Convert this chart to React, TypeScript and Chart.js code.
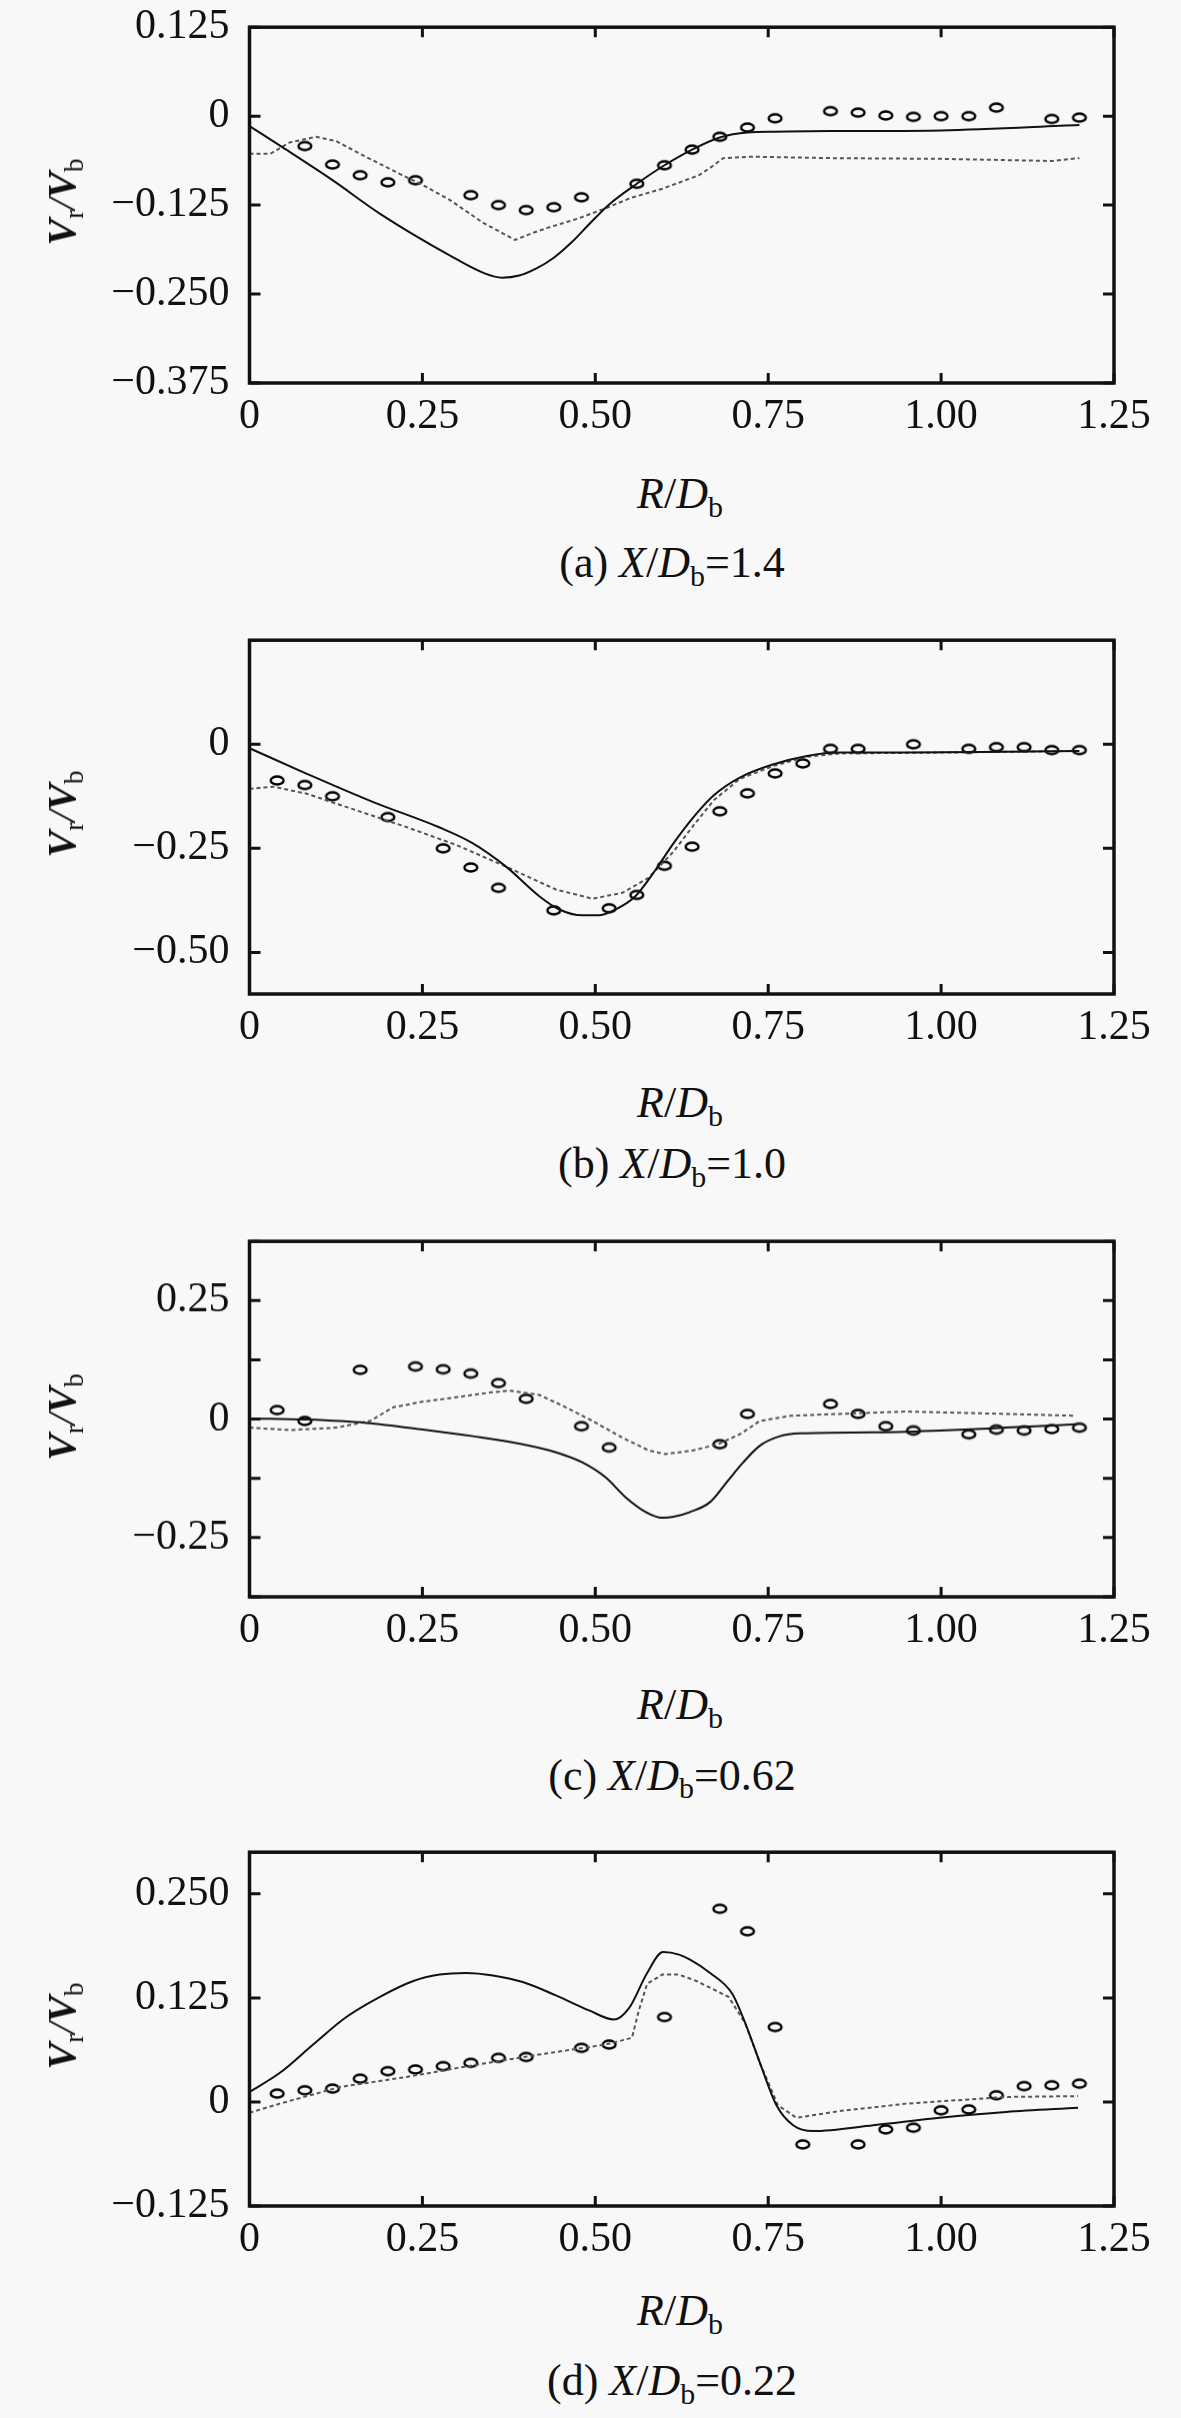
import React, { useEffect, useRef } from 'react';
import { Chart, registerables } from 'chart.js';

Chart.register(...registerables);

// R/D_b axis, shared by all four panels
const xTicks = [0, 0.25, 0.5, 0.75, 1.0, 1.25];
const xTickLabels = ['0', '0.25', '0.50', '0.75', '1.00', '1.25'];

// (a) X/D_b = 1.4
const expAx = [0.08, 0.12, 0.16, 0.2, 0.24, 0.32, 0.36, 0.4, 0.44, 0.48, 0.56, 0.6, 0.64, 0.68, 0.72, 0.76, 0.84, 0.88, 0.92, 0.96, 1.0, 1.04, 1.08, 1.16, 1.2];
const expAy = [-0.042, -0.068, -0.083, -0.093, -0.09, -0.111, -0.125, -0.132, -0.128, -0.114, -0.095, -0.069, -0.047, -0.029, -0.016, -0.003, 0.007, 0.005, 0.001, -0.001, 0.0, 0.0, 0.012, -0.004, -0.002];
const solidAx = [0, 0.048, 0.12, 0.19, 0.29, 0.34, 0.365, 0.39, 0.415, 0.44, 0.465, 0.49, 0.52, 0.56, 0.6, 0.64, 0.68, 0.72, 0.76, 0.84, 1.0, 1.2];
const solidAy = [-0.014, -0.044, -0.09, -0.138, -0.196, -0.221, -0.227, -0.224, -0.214, -0.199, -0.178, -0.153, -0.124, -0.095, -0.069, -0.047, -0.03, -0.023, -0.022, -0.021, -0.02, -0.0125];
const dotAx = [0, 0.03, 0.058, 0.096, 0.125, 0.17, 0.217, 0.251, 0.29, 0.338, 0.384, 0.41, 0.434, 0.475, 0.516, 0.551, 0.597, 0.65, 0.667, 0.685, 0.725, 0.84, 1.0, 1.16, 1.2];
const dotAy = [-0.053, -0.053, -0.037, -0.029, -0.035, -0.058, -0.081, -0.097, -0.118, -0.15, -0.174, -0.164, -0.156, -0.144, -0.129, -0.115, -0.102, -0.083, -0.072, -0.059, -0.057, -0.059, -0.06, -0.063, -0.059];
const yTicksA = [-0.375, -0.25, -0.125, 0, 0.125];
const yLabelsA = ['\u22120.375', '\u22120.250', '\u22120.125', '0', '0.125'];

// (b) X/D_b = 1.0
const expBx = [0.04, 0.08, 0.12, 0.2, 0.28, 0.32, 0.36, 0.44, 0.52, 0.56, 0.6, 0.64, 0.68, 0.72, 0.76, 0.8, 0.84, 0.88, 0.96, 1.04, 1.08, 1.12, 1.16, 1.2];
const expBy = [-0.087, -0.098, -0.125, -0.175, -0.25, -0.296, -0.345, -0.399, -0.394, -0.362, -0.292, -0.246, -0.161, -0.118, -0.07, -0.046, -0.011, -0.011, 0.0, -0.011, -0.007, -0.007, -0.014, -0.014];
const solidBx = [0, 0.083, 0.179, 0.275, 0.323, 0.371, 0.419, 0.448, 0.481, 0.505, 0.529, 0.558, 0.587, 0.613, 0.642, 0.671, 0.709, 0.758, 0.806, 0.854, 0.95, 1.094, 1.2];
const solidBy = [-0.0095, -0.071, -0.139, -0.2, -0.238, -0.294, -0.365, -0.397, -0.411, -0.411, -0.397, -0.365, -0.302, -0.238, -0.175, -0.123, -0.08, -0.048, -0.028, -0.02, -0.02, -0.018, -0.016];
const dotBx = [0, 0.035, 0.083, 0.155, 0.227, 0.299, 0.371, 0.443, 0.496, 0.539, 0.577, 0.613, 0.642, 0.671, 0.709, 0.758, 0.806, 0.854, 1.0, 1.2];
const dotBy = [-0.107, -0.102, -0.119, -0.159, -0.199, -0.242, -0.294, -0.349, -0.371, -0.357, -0.321, -0.258, -0.195, -0.135, -0.083, -0.052, -0.03, -0.022, -0.02, -0.016];
const yTicksB = [-0.5, -0.25, 0];
const yLabelsB = ['\u22120.50', '\u22120.25', '0'];

// (c) X/D_b = 0.62
const expCx = [0.04, 0.08, 0.16, 0.24, 0.28, 0.32, 0.36, 0.4, 0.48, 0.52, 0.68, 0.72, 0.84, 0.88, 0.92, 0.96, 1.04, 1.08, 1.12, 1.16, 1.2];
const expCy = [0.019, -0.004, 0.104, 0.111, 0.105, 0.096, 0.076, 0.043, -0.015, -0.06, -0.053, 0.011, 0.032, 0.011, -0.015, -0.024, -0.032, -0.022, -0.024, -0.021, -0.018];
const solidCx = [0, 0.083, 0.169, 0.251, 0.323, 0.395, 0.443, 0.481, 0.515, 0.544, 0.573, 0.597, 0.613, 0.637, 0.666, 0.69, 0.714, 0.738, 0.767, 0.796, 0.9, 0.998, 1.094, 1.195];
const solidCy = [0.0015, -0.001, -0.008, -0.022, -0.036, -0.053, -0.07, -0.091, -0.123, -0.165, -0.196, -0.208, -0.206, -0.196, -0.175, -0.133, -0.091, -0.056, -0.036, -0.03, -0.028, -0.024, -0.018, -0.011];
const dotCx = [0, 0.059, 0.126, 0.174, 0.208, 0.251, 0.299, 0.347, 0.376, 0.419, 0.453, 0.496, 0.539, 0.577, 0.601, 0.642, 0.677, 0.709, 0.738, 0.782, 0.854, 0.949, 1.094, 1.195];
const dotCy = [-0.018, -0.023, -0.018, -0.004, 0.025, 0.037, 0.046, 0.056, 0.06, 0.051, 0.028, -0.004, -0.039, -0.066, -0.074, -0.066, -0.053, -0.032, -0.004, 0.007, 0.011, 0.016, 0.011, 0.007];
const yTicksC = [-0.375, -0.25, -0.125, 0, 0.125, 0.25, 0.375];
const yLabelsC = ['', '\u22120.25', '', '0', '', '0.25', ''];

// (d) X/D_b = 0.22
const expDx = [0.04, 0.08, 0.12, 0.16, 0.2, 0.24, 0.28, 0.32, 0.36, 0.4, 0.48, 0.52, 0.6, 0.68, 0.72, 0.76, 0.8, 0.88, 0.92, 0.96, 1.0, 1.04, 1.08, 1.12, 1.16, 1.2];
const expDy = [0.01, 0.014, 0.016, 0.028, 0.037, 0.039, 0.043, 0.047, 0.053, 0.054, 0.065, 0.069, 0.102, 0.232, 0.205, 0.09, -0.051, -0.051, -0.033, -0.031, -0.01, -0.009, 0.008, 0.019, 0.02, 0.022];
const solidDx = [0, 0.044, 0.092, 0.14, 0.188, 0.236, 0.275, 0.313, 0.352, 0.395, 0.443, 0.491, 0.527, 0.549, 0.575, 0.598, 0.621, 0.637, 0.666, 0.698, 0.719, 0.738, 0.762, 0.786, 0.815, 0.902, 0.998, 1.094, 1.198];
const solidDy = [0.012, 0.035, 0.069, 0.102, 0.126, 0.145, 0.153, 0.155, 0.152, 0.144, 0.128, 0.11, 0.099, 0.113, 0.155, 0.18, 0.177, 0.171, 0.155, 0.13, 0.09, 0.047, -0.004, -0.028, -0.035, -0.028, -0.019, -0.012, -0.007];
const dotDx = [0, 0.044, 0.131, 0.227, 0.323, 0.419, 0.515, 0.553, 0.563, 0.575, 0.597, 0.621, 0.647, 0.693, 0.717, 0.738, 0.764, 0.791, 0.853, 0.95, 1.094, 1.198];
const dotDy = [-0.013, -0.002, 0.018, 0.03, 0.044, 0.057, 0.069, 0.077, 0.11, 0.142, 0.153, 0.153, 0.145, 0.126, 0.094, 0.047, -0.004, -0.019, -0.011, -0.002, 0.006, 0.007];
const yTicksD = [-0.125, 0, 0.125, 0.25];
const yLabelsD = ['\u22120.125', '0', '0.125', '0.250'];

const SERIF = '"Liberation Serif", "Times New Roman", serif';
const INK = '#111';
const PAGE_W = 1181;
const PLOT_LEFT = 249.5;
const PLOT_RIGHT = 1114;
const PAD_TOP = 40;
const X_AXIS_H = 60;

interface PanelDef {
  tag: string;
  station: string;
  yMin: number;
  yMax: number;
  yTicks: number[];
  yLabels: string[];
  expX: number[];
  expY: number[];
  solidX: number[];
  solidY: number[];
  dotX: number[];
  dotY: number[];
  // page layout
  plotTop: number;
  plotH: number;
  titleY: number;
  captionY: number;
}

const panels: PanelDef[] = [
  { tag: '(a)', station: '1.4', yMin: -0.375, yMax: 0.125, yTicks: yTicksA, yLabels: yLabelsA, expX: expAx, expY: expAy, solidX: solidAx, solidY: solidAy, dotX: dotAx, dotY: dotAy, plotTop: 21.5, plotH: 361.2, titleY: 494, captionY: 562.6 },
  { tag: '(b)', station: '1.0', yMin: -0.6, yMax: 0.25, yTicks: yTicksB, yLabels: yLabelsB, expX: expBx, expY: expBy, solidX: solidBx, solidY: solidBy, dotX: dotBx, dotY: dotBy, plotTop: 634.7, plotH: 359.3, titleY: 1102.8, captionY: 1164 },
  { tag: '(c)', station: '0.62', yMin: -0.375, yMax: 0.375, yTicks: yTicksC, yLabels: yLabelsC, expX: expCx, expY: expCy, solidX: solidCx, solidY: solidCy, dotX: dotCx, dotY: dotCy, plotTop: 1236.3, plotH: 360.4, titleY: 1704.7, captionY: 1775.5 },
  { tag: '(d)', station: '0.22', yMin: -0.125, yMax: 0.3, yTicks: yTicksD, yLabels: yLabelsD, expX: expDx, expY: expDy, solidX: solidDx, solidY: solidDy, dotX: dotDx, dotY: dotDy, plotTop: 1846.5, plotH: 359.5, titleY: 2310.6, captionY: 2380.7 },
];

const toPoints = (xs: number[], ys: number[]) => xs.map((x, i) => ({ x, y: ys[i] }));

// open ellipse marker, the scanned circles are squashed vertically
let markerCache: HTMLCanvasElement | null = null;
function ellipseMarker(): HTMLCanvasElement {
  if (markerCache) return markerCache;
  const c = document.createElement('canvas');
  c.width = 18;
  c.height = 13;
  const g = c.getContext('2d');
  if (g) {
    g.strokeStyle = '#000';
    g.lineWidth = 2.4;
    g.beginPath();
    g.ellipse(9, 6.5, 6.4, 4.0, 0, 0, Math.PI * 2);
    g.stroke();
  }
  markerCache = c;
  return c;
}

// closed frame with inward ticks on all four sides
const frameTicks = {
  id: 'frameTicks',
  afterDraw(chart: any) {
    const { ctx, chartArea } = chart;
    const { left, right, top, bottom } = chartArea;
    const xs = chart.scales.x;
    const ys = chart.scales.y;
    ctx.save();
    ctx.strokeStyle = INK;
    ctx.lineWidth = 3.5;
    ctx.strokeRect(left, top, right - left, bottom - top);
    ctx.lineWidth = 3;
    ctx.beginPath();
    xs.ticks.forEach((t: any) => {
      const px = xs.getPixelForValue(t.value);
      ctx.moveTo(px, bottom);
      ctx.lineTo(px, bottom - 10);
      ctx.moveTo(px, top);
      ctx.lineTo(px, top + 10);
    });
    ys.ticks.forEach((t: any) => {
      const py = ys.getPixelForValue(t.value);
      ctx.moveTo(left, py);
      ctx.lineTo(left + 11, py);
      ctx.moveTo(right, py);
      ctx.lineTo(right - 11, py);
    });
    ctx.stroke();
    ctx.restore();
  },
};

const Sub: React.FC<{ children: React.ReactNode }> = ({ children }) => (
  <span style={{ fontSize: '0.68em', position: 'relative', top: '0.3em', fontStyle: 'normal', fontWeight: 'normal' }}>
    {children}
  </span>
);

const textBase: React.CSSProperties = {
  position: 'absolute',
  whiteSpace: 'nowrap',
  color: INK,
  fontFamily: SERIF,
  lineHeight: 1,
};

const Panel: React.FC<{ p: PanelDef }> = ({ p }) => {
  const canvasRef = useRef<HTMLCanvasElement | null>(null);
  const canvasH = PAD_TOP + p.plotH + X_AXIS_H;

  useEffect(() => {
    if (!canvasRef.current) return;
    const ctx = canvasRef.current.getContext('2d');
    if (!ctx) return;

    const chart = new Chart(ctx, {
      type: 'scatter',
      data: {
        datasets: [
          {
            label: 'solid',
            data: toPoints(p.solidX, p.solidY),
            showLine: true,
            borderColor: INK,
            borderWidth: 2,
            pointRadius: 0,
            cubicInterpolationMode: 'monotone',
          },
          {
            label: 'dotted',
            data: toPoints(p.dotX, p.dotY),
            showLine: true,
            borderColor: '#555',
            borderWidth: 2,
            borderDash: [4, 3],
            pointRadius: 0,
          },
          {
            label: 'experiment',
            data: toPoints(p.expX, p.expY),
            showLine: false,
            pointStyle: ellipseMarker(),
            pointRadius: 6,
            pointHoverRadius: 6,
          },
        ],
      },
      options: {
        responsive: false,
        animation: false,
        events: [],
        layout: { padding: { top: PAD_TOP, right: PAGE_W - PLOT_RIGHT, bottom: 0, left: 0 } },
        plugins: { legend: { display: false }, tooltip: { enabled: false } },
        scales: {
          x: {
            type: 'linear',
            min: 0,
            max: 1.25,
            grid: { display: false, drawTicks: false },
            border: { display: false },
            afterBuildTicks: (scale: any) => {
              scale.ticks = xTicks.map(v => ({ value: v }));
            },
            afterFit: (scale: any) => {
              scale.height = X_AXIS_H;
            },
            ticks: {
              autoSkip: false,
              maxRotation: 0,
              padding: 9,
              color: INK,
              font: { family: SERIF, size: 42 },
              callback: (_v: any, i: number) => xTickLabels[i],
            },
          },
          y: {
            type: 'linear',
            min: p.yMin,
            max: p.yMax,
            grid: { display: false, drawTicks: false },
            border: { display: false },
            afterBuildTicks: (scale: any) => {
              scale.ticks = p.yTicks.map(v => ({ value: v }));
            },
            afterFit: (scale: any) => {
              scale.width = PLOT_LEFT;
            },
            ticks: {
              autoSkip: false,
              padding: 20,
              color: INK,
              font: { family: SERIF, size: 42 },
              callback: (_v: any, i: number) => p.yLabels[i],
            },
          },
        },
      },
      plugins: [frameTicks],
    } as any);

    return () => {
      chart.destroy();
    };
  }, [p]);

  return (
    <>
      <canvas
        ref={canvasRef}
        width={PAGE_W}
        height={canvasH}
        style={{ position: 'absolute', left: 0, top: p.plotTop - PAD_TOP, width: PAGE_W, height: canvasH }}
      />
      <div
        style={{
          ...textBase,
          left: 62,
          top: p.plotTop + p.plotH / 2,
          fontSize: 40,
          transform: 'translate(-50%, -50%) rotate(-90deg)',
        }}
      >
        <b><i>V</i></b><Sub>r</Sub><i>/</i><b><i>V</i></b><Sub>b</Sub>
      </div>
      <div style={{ ...textBase, left: 680, top: p.titleY, fontSize: 44, transform: 'translate(-50%, -50%)' }}>
        <i>R</i>/<i>D</i><Sub>b</Sub>
      </div>
      <div style={{ ...textBase, left: 672, top: p.captionY, fontSize: 44, transform: 'translate(-50%, -50%)' }}>
        {p.tag} <i>X</i>/<i>D</i><Sub>b</Sub>={p.station}
      </div>
    </>
  );
};

const App: React.FC = () => (
  <div style={{ position: 'absolute', left: 0, top: 0, width: PAGE_W, height: 2418, background: '#f8f8f8', overflow: 'hidden' }}>
    {panels.map(p => (
      <Panel key={p.tag} p={p} />
    ))}
  </div>
);

export default App;
